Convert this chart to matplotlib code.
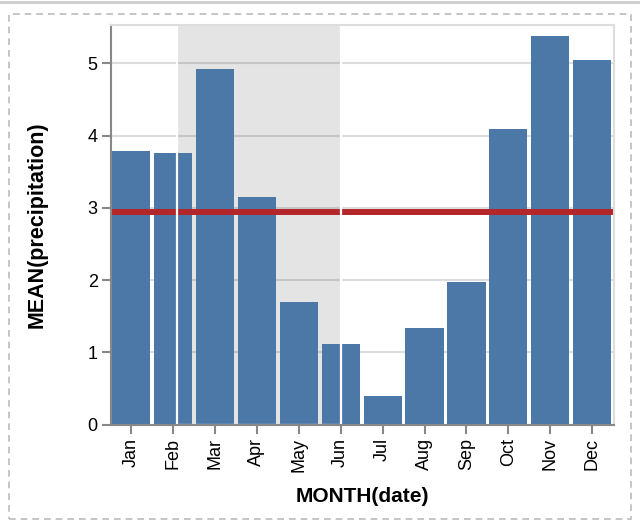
import numpy as np
from matplotlib import pyplot as plt
from matplotlib.patches import Rectangle

months = ["Jan", "Feb", "Mar", "Apr", "May", "Jun",
          "Jul", "Aug", "Sep", "Oct", "Nov", "Dec"]
precip = [3.78, 3.76, 4.92, 3.15, 1.69, 1.11,
          0.39, 1.33, 1.97, 4.09, 5.38, 5.05]
brush_range = [1.1, 5.01]
selected_mean = 2.94
y_ticks = [0, 1, 2, 3, 4, 5]

plt.rcParams['font.family'] = ['Liberation Sans', 'DejaVu Sans']

fig = plt.figure(figsize=(6.4, 5.28), dpi=100)
ax = fig.add_axes([111 / 640, 1 - 424.5 / 528, 503 / 640, 399.5 / 528])

x = np.arange(len(months))
ax.set_axisbelow(True)
ax.grid(axis="y", color="#dddddd", linewidth=1.5, zorder=0.5)

# brush fill behind bars, outline on top
ax.axvspan(brush_range[0], brush_range[1], color="#000000", alpha=0.105,
           linewidth=0, zorder=0.7)
ax.bar(x, precip, width=0.91, color="#4c78a8", zorder=1)
ax.axhline(selected_mean, color="#b3272b", linewidth=4.3, zorder=2)
ax.add_patch(Rectangle((brush_range[0], 0), brush_range[1] - brush_range[0], 5.53,
                       fill=False, edgecolor="white", linewidth=1.6, zorder=2.2,
                       clip_on=True))

ax.set_xlim(-0.48, 11.52)
ax.set_ylim(0, 5.53)
ax.set_xticks(x)
ax.set_xticklabels(months, rotation=90, fontsize=13)
ax.set_yticks(y_ticks)
ax.set_yticklabels([str(t) for t in y_ticks], fontsize=13)
ax.tick_params(axis="both", color="#888888", width=1.5, length=6.5, pad=3)

for s in ["left", "bottom"]:
    ax.spines[s].set_color("#888888")
    ax.spines[s].set_linewidth(1.5)
for s in ["top", "right"]:
    ax.spines[s].set_color("#dddddd")
    ax.spines[s].set_linewidth(1.5)

ax.set_xlabel("MONTH(date)", fontsize=15, fontweight="bold", labelpad=11)
ax.set_ylabel("MEAN(precipitation)", fontsize=15.5, fontweight="bold", labelpad=29)

# outer dashed frame and top rule
fig.add_artist(Rectangle((9 / 640, 1 - 519 / 528), 622 / 640, 505 / 528,
                         transform=fig.transFigure, fill=False,
                         edgecolor="#bbbbbb", linewidth=1.2, linestyle=(0, (4, 3))))
fig.add_artist(plt.Line2D([0, 1], [1 - 2 / 528, 1 - 2 / 528], transform=fig.transFigure,
                          color="#cccccc", linewidth=2))

fig.savefig("out.png", dpi=100)
